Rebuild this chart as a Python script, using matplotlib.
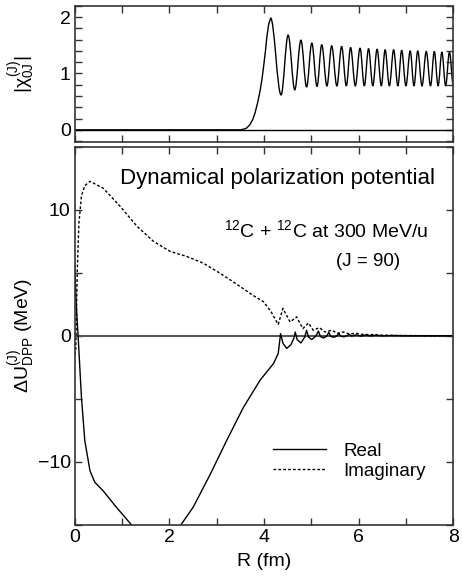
import matplotlib
matplotlib.use("Agg")
import matplotlib.pyplot as plt
from matplotlib.ticker import MultipleLocator
from matplotlib.path import Path
from matplotlib.patches import PathPatch

plt.rcParams['font.family'] = ['Liberation Sans', 'DejaVu Sans']
plt.rcParams['mathtext.fontset'] = 'custom'
plt.rcParams['mathtext.rm'] = 'Liberation Sans'
plt.rcParams['mathtext.it'] = 'Liberation Sans'
plt.rcParams['mathtext.bf'] = 'Liberation Sans:bold'

# ---- data: top panel |chi| : rise (read points) ----
rise_x = [0.0, 3.40, 3.50, 3.56, 3.63, 3.70, 3.76, 3.81, 3.87, 3.92, 3.96, 3.99, 4.03, 4.06, 4.10, 4.14]
rise_y = [0.0, 0.0, 0.0, 0.01, 0.03, 0.09, 0.18, 0.30, 0.50, 0.71, 0.92, 1.12, 1.40, 1.65, 1.88, 1.98]
# extrema (alternating peaks / troughs) from the first peak on
ext_x = [4.14, 4.36, 4.51, 4.65, 4.78, 4.90, 5.01, 5.12, 5.22, 5.33, 5.43, 5.54, 5.64, 5.74,
         5.83, 5.93, 6.03, 6.12, 6.21, 6.30, 6.39, 6.48, 6.56, 6.65, 6.74, 6.83, 6.91, 7.00,
         7.09, 7.17, 7.25, 7.34, 7.43, 7.52, 7.60, 7.68, 7.76, 7.84, 7.92, 8.0]
ext_y = [1.98, 0.62, 1.68, 0.71, 1.59, 0.76, 1.54, 0.77, 1.51, 0.78, 1.49, 0.78, 1.48, 0.78,
         1.46, 0.78, 1.45, 0.78, 1.44, 0.78, 1.43, 0.78, 1.42, 0.78, 1.42, 0.78, 1.41, 0.78,
         1.40, 0.78, 1.40, 0.78, 1.39, 0.78, 1.39, 0.78, 1.38, 0.78, 1.38, 0.80]

# ---- data: bottom panel DPP ----
real_x = [0.0, 0.03, 0.07, 0.14, 0.21, 0.32, 0.42, 0.60, 0.88, 1.20, 1.70, 2.24, 2.50, 2.86,
          3.21, 3.56, 3.92, 4.20, 4.30, 4.35, 4.40, 4.48, 4.57, 4.63, 4.66, 4.70, 4.78, 4.86,
          4.90, 4.94, 5.01, 5.10, 5.15, 5.19, 5.26, 5.33, 5.37, 5.41, 5.48, 5.55, 5.58, 5.62,
          5.69, 5.76, 5.80, 5.85, 5.95, 6.05, 6.15, 6.25, 6.35, 6.5, 6.7, 7.0, 7.5, 8.0]
real_y = [5.5, 2.5, -0.1, -4.9, -8.3, -10.7, -11.6, -12.3, -13.6, -15.0, -17.5, -15.0, -13.6, -11.0,
          -8.3, -5.7, -3.5, -2.2, -1.4, 0.17, -0.6, -1.0, -0.7, -0.2, 0.3, -0.3, -0.57, -0.1,
          0.44, -0.1, -0.3, 0.0, 0.38, -0.05, -0.18, 0.0, 0.28, -0.05, -0.12, 0.02, 0.2, -0.03,
          -0.08, 0.02, 0.12, -0.02, 0.08, -0.02, 0.06, -0.01, 0.04, 0.0, 0.02, 0.0, 0.0, 0.0]

imag_x = [0.0, 0.02, 0.05, 0.085, 0.14, 0.21, 0.32, 0.60, 0.95, 1.31, 1.66, 2.01, 2.36, 2.72,
          3.07, 3.42, 3.77, 3.99, 4.15, 4.30, 4.40, 4.55, 4.69, 4.82, 4.94, 5.04, 5.17, 5.29,
          5.43, 5.55, 5.68, 5.80, 5.95, 6.10, 6.30, 6.5, 7.0, 7.5, 8.0]
imag_y = [-1.5, -1.0, 5.0, 8.9, 11.1, 11.9, 12.25, 11.7, 10.3, 8.7, 7.5, 6.7, 6.3, 5.75,
          4.96, 4.1, 3.2, 2.7, 1.9, 0.9, 2.17, 1.1, 1.5, 0.57, 1.02, 0.44, 0.65, 0.3,
          0.44, 0.2, 0.3, 0.15, 0.2, 0.1, 0.1, 0.05, 0.02, 0.0, 0.0]

x_ticks = [0, 2, 4, 6, 8]

fig = plt.figure(figsize=(4.62, 5.83), dpi=100)
ax1 = fig.add_axes([0.162, 0.757, 0.819, 0.233])
ax2 = fig.add_axes([0.162, 0.0995, 0.819, 0.649])

spine_c = '#333333'
for ax in (ax1, ax2):
    for s in ax.spines.values():
        s.set_color(spine_c)
        s.set_linewidth(1.2)
    ax.tick_params(which='both', direction='in', top=True, right=True,
                   length=5, width=1, color=spine_c, labelsize=14, pad=3)
    ax.set_xlim(0, 8)
    ax.xaxis.set_major_locator(MultipleLocator(2))
    ax.xaxis.set_minor_locator(MultipleLocator(1))

# top panel: rise as polyline, oscillation as smooth curve between extrema
ax1.plot(rise_x, rise_y, color='black', lw=1.0)
verts = [(ext_x[0], ext_y[0])]
codes = [Path.MOVETO]
for i in range(len(ext_x) - 1):
    x0, y0, x1, y1 = ext_x[i], ext_y[i], ext_x[i + 1], ext_y[i + 1]
    d = (x1 - x0) * 0.36
    verts += [(x0 + d, y0), (x1 - d, y1), (x1, y1)]
    codes += [Path.CURVE4] * 3
ax1.add_patch(PathPatch(Path(verts, codes), facecolor='none', edgecolor='black', lw=1.0))
ax1.axhline(0, color='black', lw=1.0)
ax1.set_ylim(-0.21, 2.2)
ax1.yaxis.set_major_locator(MultipleLocator(1))
ax1.yaxis.set_minor_locator(MultipleLocator(0.2))
ax1.tick_params(labelbottom=False)
ax1.set_ylabel(r'$|\chi^{(J)}_{0J}|$', fontsize=14)
ax1.yaxis.set_label_coords(-0.098, 0.5)

ax2.axhline(0, color='#555555', lw=1.5)
ax2.plot(real_x, real_y, color='black', lw=1.0, label='Real')
ax2.plot(imag_x, imag_y, color='black', lw=1.0, linestyle=(0, (2, 1.5)), label='Imaginary')
ax2.set_ylim(-15, 15)
ax2.yaxis.set_major_locator(MultipleLocator(10))
ax2.yaxis.set_minor_locator(MultipleLocator(5))
ax2.set_xticks(x_ticks)
ax2.set_xticklabels([str(t) for t in x_ticks])
ax2.set_xlabel('R (fm)', fontsize=14, labelpad=5)
ax2.set_ylabel(r'$\Delta$U$^{(J)}_{\rm DPP}$ (MeV)', fontsize=14)
ax2.yaxis.set_label_coords(-0.098, 0.5)

ax2.text(0.536, 0.915, 'Dynamical polarization potential', transform=ax2.transAxes,
         ha='center', va='center', fontsize=16)
ax2.text(0.665, 0.780, r'$^{12}$C + $^{12}$C at 300 MeV/u', transform=ax2.transAxes,
         ha='center', va='center', fontsize=14)
ax2.text(0.776, 0.696, '(J = 90)', transform=ax2.transAxes,
         ha='center', va='center', fontsize=13.5)

leg = ax2.legend(loc='upper left', bbox_to_anchor=(0.524, 0.217), frameon=False, borderpad=0,
                 borderaxespad=0, fontsize=13.5, handlelength=2.83, handletextpad=0.9,
                 labelspacing=0.15)

fig.savefig('out.png', dpi=100)
